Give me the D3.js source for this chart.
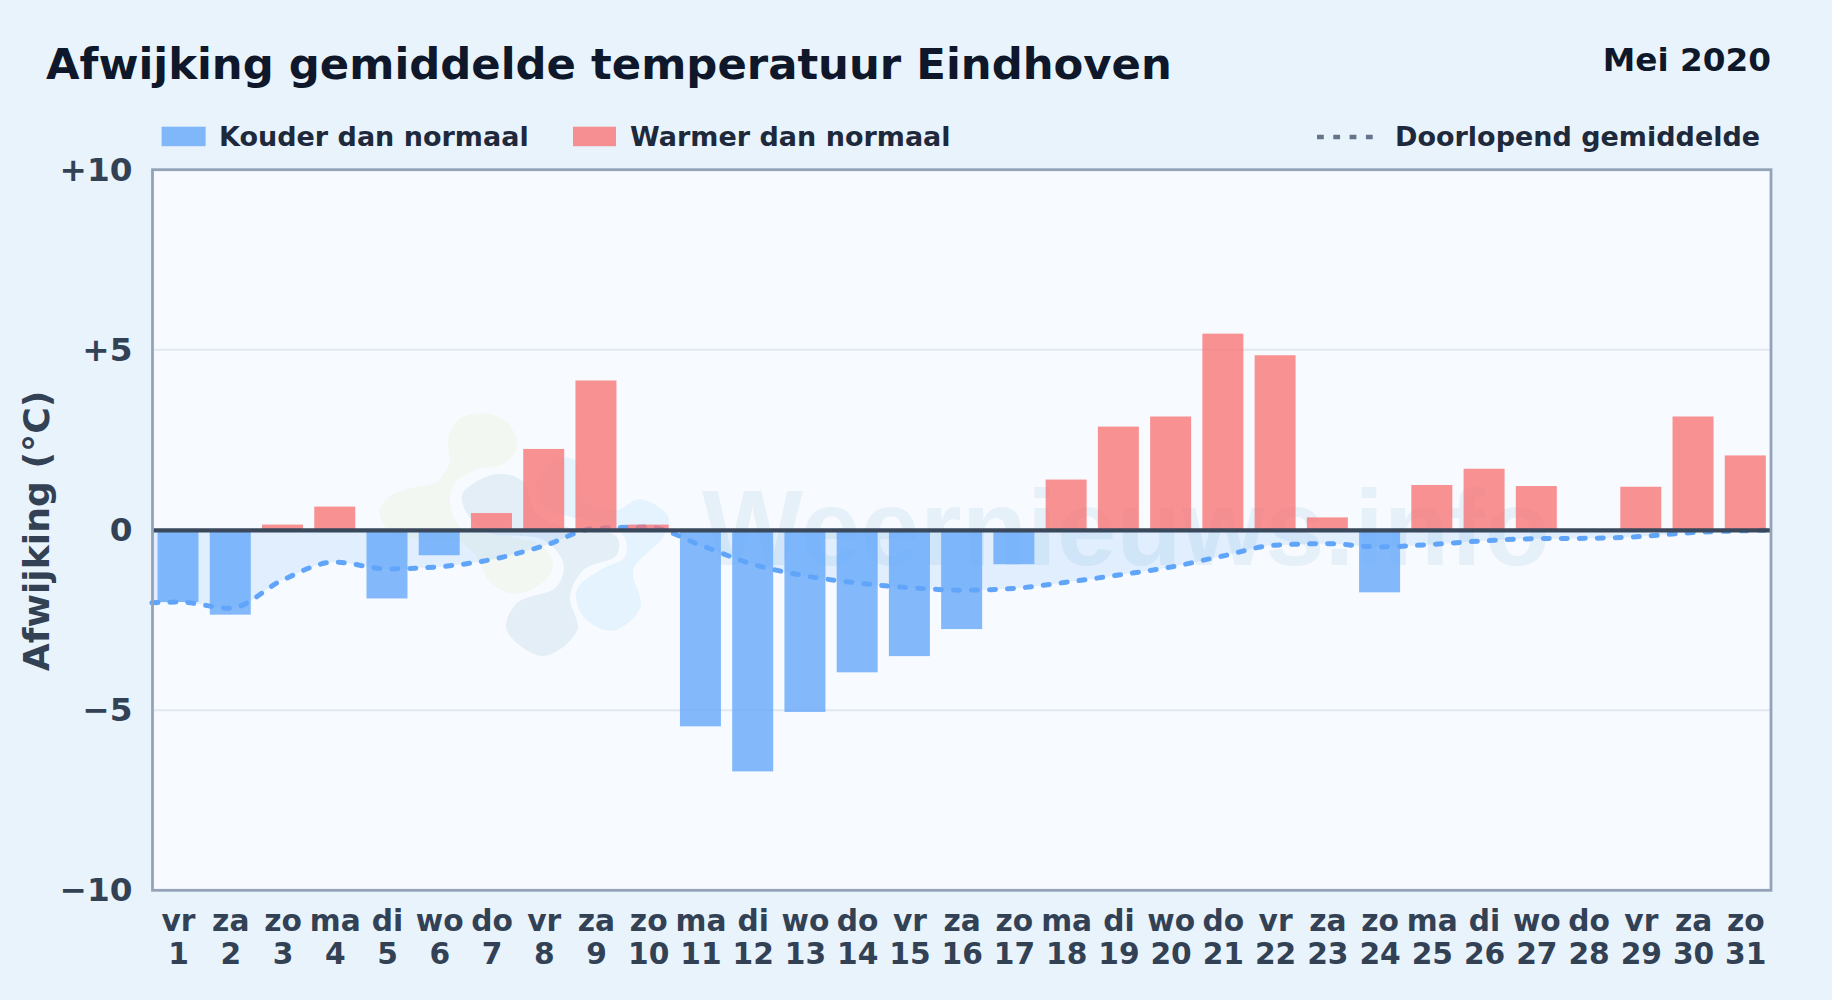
<!DOCTYPE html>
<html>
<head>
<meta charset="utf-8">
<title>Afwijking gemiddelde temperatuur Eindhoven</title>
<script src="https://d3js.org/d3.v7.min.js"></script>
<style>
  html, body { margin: 0; padding: 0; background: #e8f3fc; }
  svg { display: block; font-family: "DejaVu Sans", sans-serif; font-weight: bold; }
  .tick text { fill: #334155; }
</style>
</head>
<body>
<script>
// data
var days = d3.range(1, 32);
var weekdays = ["vr","za","zo","ma","di","wo","do","vr","za","zo","ma","di","wo","do","vr","za","zo","ma","di","wo","do","vr","za","zo","ma","di","wo","do","vr","za","zo"];
var deviation = [-2.0,-2.35,0.15,0.65,-1.9,-0.7,0.47,2.25,4.15,0.15,-5.45,-6.7,-5.05,-3.95,-3.5,-2.75,-0.95,1.4,2.87,3.15,5.45,4.85,0.35,-1.73,1.25,1.7,1.22,0,1.2,3.15,2.07];
// running mean, first and last value reach the plot edges
var meanDays = [0.5,1,2,3,4,5,6,7,8,9,10,11,12,13,14,15,16,17,18,19,20,21,22,23,24,25,26,27,28,29,30,31,31.5];
var meanValues = [-2.02,-2.0,-2.17,-1.39,-0.89,-1.08,-1.02,-0.82,-0.44,0.05,0.08,-0.42,-0.95,-1.27,-1.47,-1.6,-1.67,-1.62,-1.45,-1.25,-1.03,-0.72,-0.42,-0.38,-0.47,-0.4,-0.3,-0.24,-0.23,-0.18,-0.07,-0.02,0];
var yTicks = [-10,-5,0,5,10];

var width = 1832, height = 1000;
var margin = {top: 169.7, right: 61, bottom: 109.7, left: 152.5};

var blue = "#60a5fa", red = "#f87171", barOpacity = 0.77;

var svg = d3.select("body").append("svg").attr("width", width).attr("height", height);

var x = d3.scaleLinear().domain([0.5, 31.5]).range([151.9, 1771.4]);
var y = d3.scaleLinear().domain([-10, 10]).range([height - margin.bottom, margin.top]);
var barWidth = 41;

// plot background
svg.append("rect")
  .attr("x", margin.left).attr("y", margin.top)
  .attr("width", width - margin.left - margin.right)
  .attr("height", height - margin.top - margin.bottom)
  .attr("fill", "#f7fbff");

// grid
svg.append("g").selectAll("line")
  .data([-5, 5])
  .enter().append("line")
  .attr("x1", margin.left).attr("x2", width - margin.right)
  .attr("y1", function(d) { return y(d); })
  .attr("y2", function(d) { return y(d); })
  .attr("stroke", "#e2e8f0").attr("stroke-width", 2);

// watermark logo, points
var blobs = [
  {fill: "#f2f8f1", pts: [[340,40],[410,65],[442,135],[405,190],[310,212],[255,250],[240,300],[270,380],[345,398],[420,410],[520,440],[550,500],[500,560],[420,580],[355,540],[320,470],[270,425],[150,420],[60,395],[28,340],[50,295],[120,265],[200,245],[236,190],[236,110],[270,55]]},
  {fill: "#e5f3fe", pts: [[500,250],[560,175],[620,185],[640,300],[740,330],[810,298],[895,350],[880,410],[790,510],[812,620],[730,692],[640,650],[620,570],[690,510],[765,470],[765,415],[720,375],[600,350],[520,320]]},
  {fill: "#e4eef7", pts: [[278,280],[380,222],[460,245],[500,340],[600,385],[740,410],[740,465],[640,510],[600,590],[622,690],[520,768],[410,690],[440,610],[560,560],[580,490],[520,420],[350,395],[285,330]]}
];
var logo = svg.append("g").attr("transform", "translate(370,400) scale(0.3333)");
logo.selectAll("path")
  .data(blobs)
  .enter().append("path")
  .attr("d", function(d) { return d3.line().curve(d3.curveCatmullRomClosed)(d.pts); })
  .attr("fill", function(d) { return d.fill; });

svg.append("text")
  .attr("x", 702).attr("y", 565)
  .attr("font-family", "Liberation Sans")
  .attr("font-size", 107)
  .attr("fill", "#e5f0f9")
  .text("Weernieuws.info");

// running mean: area and dashed line sit under the bars
var area = d3.area()
  .x(function(d, i) { return x(meanDays[i]); })
  .y0(y(0))
  .y1(function(d) { return y(d); })
  .curve(d3.curveMonotoneX);
var line = d3.line()
  .x(function(d, i) { return x(meanDays[i]); })
  .y(function(d) { return y(d); })
  .curve(d3.curveMonotoneX);

svg.append("path").datum(meanValues)
  .attr("d", area)
  .attr("fill", blue).attr("fill-opacity", 0.15);
svg.append("path").datum(meanValues)
  .attr("d", line)
  .attr("fill", "none")
  .attr("stroke", blue)
  .attr("stroke-width", 5)
  .attr("stroke-linecap", "round")
  .attr("stroke-dasharray", "6 12");

// bars
svg.append("g").selectAll("rect")
  .data(deviation)
  .enter().append("rect")
  .attr("x", function(d, i) { return x(days[i]) - barWidth / 2; })
  .attr("y", function(d) { return y(Math.max(d, 0)); })
  .attr("width", barWidth)
  .attr("height", function(d) { return Math.abs(y(d) - y(0)); })
  .attr("fill", function(d) { return d < 0 ? blue : red; })
  .attr("fill-opacity", barOpacity);

// zero line
svg.append("line")
  .attr("x1", margin.left).attr("x2", width - margin.right)
  .attr("y1", y(0) + 0.3).attr("y2", y(0) + 0.3)
  .attr("stroke", "#3a485c").attr("stroke-width", 4.2);

// frame
svg.append("rect")
  .attr("x", margin.left).attr("y", margin.top)
  .attr("width", width - margin.left - margin.right)
  .attr("height", height - margin.top - margin.bottom)
  .attr("fill", "none")
  .attr("stroke", "#94a3b8").attr("stroke-width", 2.8);

// axes
var yAxis = d3.axisLeft(y).tickValues(yTicks).tickSize(0).tickPadding(20)
  .tickFormat(function(d) { return d > 0 ? "+" + d : d < 0 ? "\u2212" + Math.abs(d) : "0"; });
svg.append("g")
  .attr("transform", "translate(" + margin.left + ",0)")
  .call(yAxis)
  .call(function(g) { g.select(".domain").remove(); })
  .selectAll("text")
  .attr("font-family", "DejaVu Sans")
  .attr("font-size", 32.7);

var xAxis = d3.axisBottom(x).tickValues(days).tickSize(0).tickFormat("");
var xg = svg.append("g")
  .attr("transform", "translate(0," + (height - margin.bottom) + ")")
  .call(xAxis)
  .call(function(g) { g.select(".domain").remove(); });
xg.selectAll(".tick text").each(function(d, i) {
  var t = d3.select(this).attr("font-family", "DejaVu Sans").attr("font-size", 29.7).attr("y", 0).attr("dy", 0);
  t.append("tspan").attr("x", 0).attr("y", 41).text(weekdays[i]);
  t.append("tspan").attr("x", 0).attr("y", 74).text(days[i]);
});

svg.append("text")
  .attr("transform", "translate(49,531) rotate(-90)")
  .attr("text-anchor", "middle")
  .attr("font-size", 36.2)
  .attr("fill", "#334155")
  .text("Afwijking (\u00b0C)");

// titles
svg.append("text")
  .attr("x", 46).attr("y", 79)
  .attr("font-size", 43.35)
  .attr("fill", "#0f172a")
  .text("Afwijking gemiddelde temperatuur Eindhoven");
svg.append("text")
  .attr("x", 1771).attr("y", 70.5)
  .attr("text-anchor", "end")
  .attr("font-size", 32.7)
  .attr("fill", "#0f172a")
  .text("Mei 2020");

// legend
var legend = svg.append("g").attr("font-size", 27).attr("fill", "#1e293b");
legend.append("rect").attr("x", 161.6).attr("y", 126.7).attr("width", 44).attr("height", 19.5).attr("fill", blue).attr("fill-opacity", barOpacity);
legend.append("text").attr("x", 219).attr("y", 146).text("Kouder dan normaal");
legend.append("rect").attr("x", 573).attr("y", 126.7).attr("width", 43).attr("height", 19.5).attr("fill", red).attr("fill-opacity", barOpacity);
legend.append("text").attr("x", 630).attr("y", 146).text("Warmer dan normaal");
legend.append("line").attr("x1", 1317).attr("x2", 1375).attr("y1", 137).attr("y2", 137)
  .attr("stroke", "#64748b").attr("stroke-width", 4.6).attr("stroke-dasharray", "6.8 9.5");
legend.append("text").attr("x", 1395).attr("y", 146).text("Doorlopend gemiddelde");
</script>
</body>
</html>
